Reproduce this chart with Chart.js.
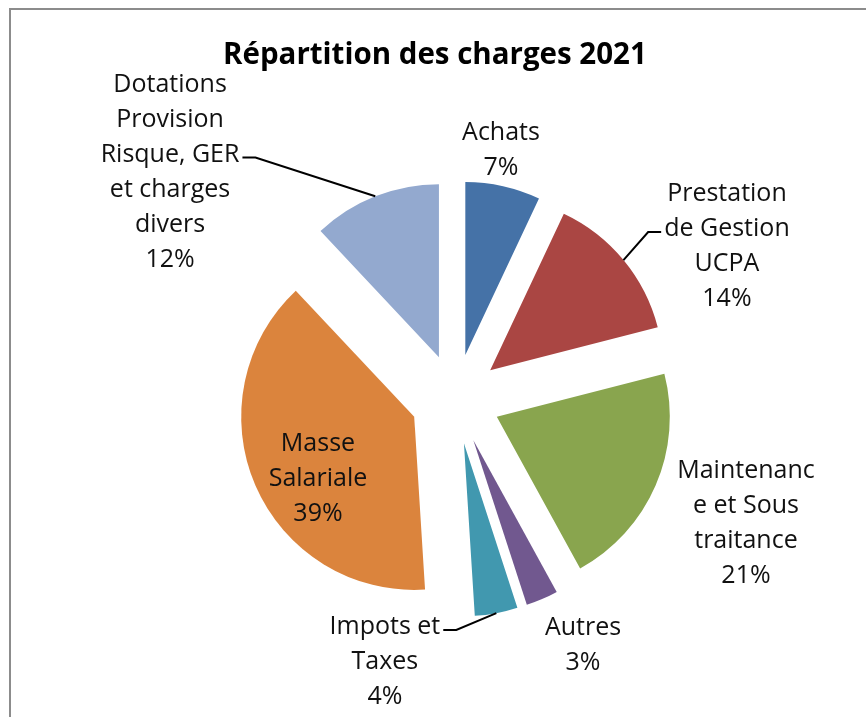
<!DOCTYPE html>
<html>
<head>
<meta charset="utf-8">
<title>Répartition des charges 2021</title>
<script src="https://cdn.jsdelivr.net/npm/chart.js@4.4.1/dist/chart.umd.min.js"></script>
<style>
	html, body { margin: 0; padding: 0; background: #fff; overflow: hidden; }
	#wrap { position: relative; width: 866px; height: 717px; }
</style>
</head>
<body>
<div id="wrap"><canvas id="chargesChart"></canvas></div>
<script>
// data
const categories = ['Achats', 'Prestation de Gestion UCPA', 'Maintenance et Sous traitance', 'Autres', 'Impots et Taxes', 'Masse Salariale', 'Dotations Provision Risque, GER et charges divers'];
const shares = [7, 14, 21, 3, 4, 39, 12];
// label text as it is wrapped in the picture
const labelLines = [
	['Achats'],
	['Prestation', 'de Gestion', 'UCPA'],
	['Maintenanc', 'e et Sous', 'traitance'],
	['Autres'],
	['Impots et', 'Taxes'],
	['Masse', 'Salariale'],
	['Dotations', 'Provision', 'Risque, GER', 'et charges', 'divers']
];
const sliceColors = ['#4572A7', '#AA4643', '#89A54E', '#71588F', '#4198AF', '#DB843D', '#93A9CF'];

// how far each slice is pulled out, in px
const explode = 45;

// where each label block sits, in radius units from the pie centre
const labelPlacement = [
	{ dx: 0.263, dy: -1.439 },
	{ dx: 1.569, dy: -0.881, leader: { line: 1, side: 'left' } },
	{ dx: 1.679, dy: 0.717 },
	{ dx: 0.737, dy: 1.422 },
	{ dx: -0.408, dy: 1.520, leader: { line: 0, side: 'right' } },
	{ dx: -0.795, dy: 0.462 },
	{ dx: -1.650, dy: -1.312, leader: { line: 2, side: 'right' } }
];

const frame = {
	id: 'frame',
	beforeDraw(chart) {
		const c = chart.ctx;
		c.save();
		c.fillStyle = '#8c8c8c';
		c.fillRect(9, 8, chart.width, 2);
		c.fillRect(9, 8, 2, chart.height);
		c.restore();
	}
};

// Chart.js' own offset also grows the radius, so push the arcs out by hand
const explodeSlices = {
	id: 'explodeSlices',
	beforeDatasetDraw(chart, args) {
		const c = chart.ctx;
		args.meta.data.forEach(function(arc) {
			const mid = (arc.startAngle + arc.endAngle) / 2;
			c.save();
			c.translate(Math.cos(mid) * explode, Math.sin(mid) * explode);
			arc.draw(c, chart.chartArea);
			c.restore();
		});
		return false;
	}
};

const sliceLabels = {
	id: 'sliceLabels',
	afterDatasetsDraw(chart) {
		const c = chart.ctx;
		const meta = chart.getDatasetMeta(0);
		const lh = 35;
		c.save();
		c.font = '25px "Open Sans"';
		c.fillStyle = '#111';
		c.textAlign = 'center';
		c.textBaseline = 'middle';
		c.strokeStyle = '#000';
		c.lineWidth = 2;
		meta.data.forEach(function(arc, i) {
			const p = arc.getProps(['x', 'y', 'startAngle', 'endAngle', 'outerRadius'], true);
			const mid = (p.startAngle + p.endAngle) / 2;
			const place = labelPlacement[i];
			const lines = labelLines[i].concat([shares[i] + '%']);
			const cx = p.x + place.dx * p.outerRadius;
			const cy = p.y + place.dy * p.outerRadius;
			const top = cy - (lines.length - 1) * lh / 2;
			lines.forEach(function(t, k) {
				c.fillText(t, cx, top + k * lh);
			});
			if (place.leader) {
				const ly = top + place.leader.line * lh + 3;
				const w = c.measureText(lines[place.leader.line]).width;
				const dir = place.leader.side === 'left' ? -1 : 1;
				const sx = cx + dir * (w / 2 + 3);
				const hx = sx + dir * 13;
				const ex = p.x + Math.cos(mid) * (explode + p.outerRadius);
				const ey = p.y + Math.sin(mid) * (explode + p.outerRadius);
				c.beginPath();
				c.moveTo(sx, ly);
				c.lineTo(hx, ly);
				c.lineTo(ex, ey);
				c.stroke();
			}
		});
		c.restore();
	}
};

const ctx = document.getElementById('chargesChart').getContext('2d');
const chart = new Chart(ctx, {
	type: 'pie',
	data: {
		labels: categories,
		datasets: [{
			data: shares,
			backgroundColor: sliceColors,
			borderWidth: 0,
			hoverOffset: 0
		}]
	},
	options: {
		responsive: true,
		maintainAspectRatio: false,
		animation: false,
		radius: 173,
		layout: {
			padding: { left: 223, right: 178, top: 0, bottom: 0 }
		},
		plugins: {
			legend: { display: false },
			tooltip: { enabled: false },
			title: {
				display: true,
				text: 'Répartition des charges 2021',
				align: 'start',
				color: '#000',
				font: { family: 'Open Sans', size: 29.5, weight: 'bold', lineHeight: 1.2 },
				padding: { top: 38, bottom: 7.6 }
			}
		}
	},
	plugins: [frame, explodeSlices, sliceLabels]
});
</script>
</body>
</html>
